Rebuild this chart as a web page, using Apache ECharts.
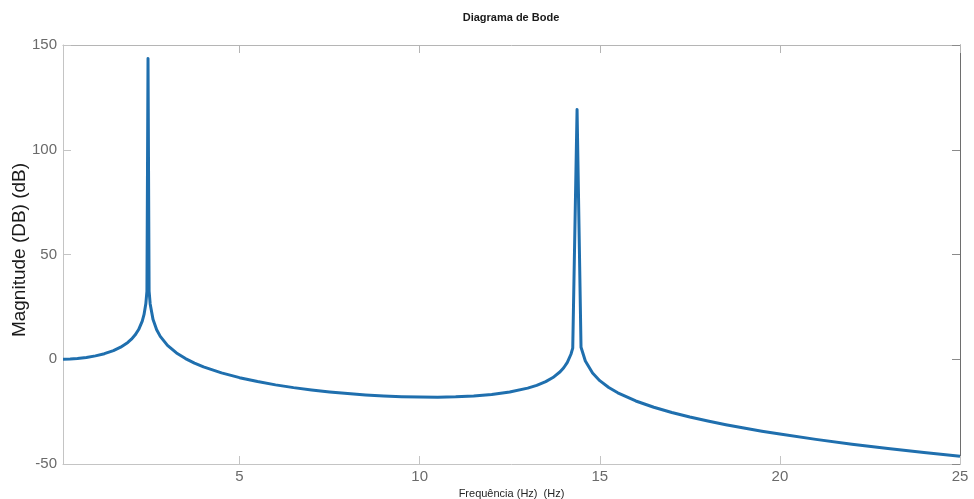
<!DOCTYPE html>
<html>
<head>
<meta charset="utf-8">
<title>Diagrama de Bode</title>
<script src="https://cdn.jsdelivr.net/npm/echarts@6/dist/echarts.min.js"></script>
<style>
  html, body { margin: 0; padding: 0; background: #ffffff; }
  #chart { width: 974px; height: 499px; }
</style>
</head>
<body>
<div id="chart"></div>
<script>
// Frequency samples (Hz) of the magnitude response
const frequencies = [
  0.1, 0.3, 0.5, 0.75, 1.0, 1.25, 1.5, 1.7, 1.9, 2.0, 2.1, 2.2, 2.3, 2.35, 2.4, 2.43,
  2.46,
  2.49, 2.52, 2.6, 2.7, 2.8, 3.0, 3.25, 3.5, 3.75, 4.0, 4.5, 5.0, 5.5, 6.0, 6.5, 7.0,
  7.5, 8.0, 8.5, 9.0, 9.5, 10.0, 10.5, 11.0, 11.5, 12.0, 12.5, 13.0, 13.25, 13.5, 13.7,
  13.9, 14.0, 14.1, 14.2, 14.25,
  14.37,
  14.48, 14.6, 14.8, 15.0, 15.25, 15.5, 16.0, 16.5, 17.0, 17.5, 18.0, 18.5, 19.0, 19.5,
  20.0, 21.0, 22.0, 23.0, 24.0, 25.0
];

// Magnitude (dB) at each frequency above
const magnitudeDb = [
  0.01, 0.13, 0.38, 0.87, 1.61, 2.66, 4.13, 5.76, 8.04, 9.57, 11.52, 14.18, 18.23, 21.40, 26.59, 32.56,
  143.5,
  32.47, 26.40, 18.92, 14.09, 10.92, 6.63, 3.01, 0.32, -1.82, -3.62, -6.51, -8.79, -10.66, -12.23, -13.55, -14.67,
  -15.61, -16.40, -17.04, -17.53, -17.88, -18.07, -18.09, -17.91, -17.50, -16.78, -15.62, -13.79, -12.46, -10.68, -8.74,
  -5.98, -4.06, -1.48, 2.38, 5.33,
  119.2,
  5.73, -0.86, -6.60, -10.22, -13.49, -16.02, -19.91, -22.93, -25.43, -27.59, -29.51, -31.25, -32.85, -34.33,
  -35.71, -38.24, -40.52, -42.60, -44.53, -46.33
];

// Axis ticks
const xTicks = [5, 10, 15, 20, 25];
const yTicks = [-50, 0, 50, 100, 150];

const titleText = 'Diagrama de Bode';
const xLabel = 'Frequência (Hz)  (Hz)';
const yLabel = 'Magnitude (DB) (dB)';

const points = frequencies.map((f, i) => [f, magnitudeDb[i]]);

const fontFamily = '"Liberation Sans", Arial, Helvetica, sans-serif';
const tickLen = 8;

const chart = echarts.init(document.getElementById('chart'), null, { renderer: 'canvas' });

chart.setOption({
  animation: false,
  backgroundColor: '#ffffff',
  graphic: [
    {
      // chart title
      type: 'text',
      x: 511,
      y: 18,
      style: {
        text: titleText,
        font: 'bold 11px ' + fontFamily,
        fill: '#1a1a1a',
        align: 'center',
        verticalAlign: 'middle'
      }
    },
    {
      // vertical axis title, rotated to read bottom-to-top
      type: 'text',
      x: 20,
      y: 250,
      rotation: Math.PI / 2,
      style: {
        text: yLabel,
        font: '19px ' + fontFamily,
        fill: '#1a1a1a',
        align: 'center',
        verticalAlign: 'middle'
      }
    }
  ],
  grid: { left: 63, right: 14, top: 45, bottom: 35, containLabel: false, outerBoundsMode: 'none' },
  xAxis: [
    {
      type: 'value',
      position: 'bottom',
      min: 0.1,
      max: 25,
      name: xLabel,
      nameLocation: 'middle',
      nameGap: 21,
      nameTextStyle: { fontFamily, fontSize: 11, color: '#262626' },
      axisLine: { show: true, onZero: false, lineStyle: { color: '#c4c4c4', width: 1 } },
      axisTick: { show: true, inside: true, length: tickLen, customValues: xTicks, lineStyle: { color: '#c4c4c4' } },
      axisLabel: { customValues: xTicks, fontFamily, fontSize: 15, color: '#6a6a6a', margin: 5 },
      splitLine: { show: false }
    },
    {
      type: 'value',
      position: 'top',
      min: 0.1,
      max: 25,
      axisLine: { show: true, onZero: false, lineStyle: { color: '#b5b5b5', width: 1 } },
      axisTick: { show: true, inside: true, length: tickLen, customValues: xTicks, lineStyle: { color: '#b5b5b5' } },
      axisLabel: { show: false },
      splitLine: { show: false }
    }
  ],
  yAxis: [
    {
      type: 'value',
      position: 'left',
      min: -50,
      max: 150,
      interval: 50,
      axisLine: { show: true, onZero: false, lineStyle: { color: '#c4c4c4', width: 1 } },
      axisTick: { show: true, inside: true, length: tickLen, customValues: yTicks, lineStyle: { color: '#c4c4c4' } },
      axisLabel: { customValues: yTicks, fontFamily, fontSize: 15, color: '#6a6a6a', margin: 6 },
      splitLine: { show: false }
    },
    {
      type: 'value',
      position: 'right',
      min: -50,
      max: 150,
      interval: 50,
      axisLine: { show: true, onZero: false, lineStyle: { color: '#6e6e6e', width: 1 } },
      axisTick: { show: true, inside: true, length: tickLen, customValues: yTicks, lineStyle: { color: '#8a8a8a' } },
      axisLabel: { show: false },
      splitLine: { show: false }
    }
  ],
  series: [
    {
      type: 'line',
      xAxisIndex: 0,
      yAxisIndex: 0,
      data: points,
      showSymbol: false,
      smooth: false,
      lineStyle: { color: '#1f6fae', width: 3, join: 'round' },
      clip: true
    }
  ]
});
</script>
</body>
</html>
